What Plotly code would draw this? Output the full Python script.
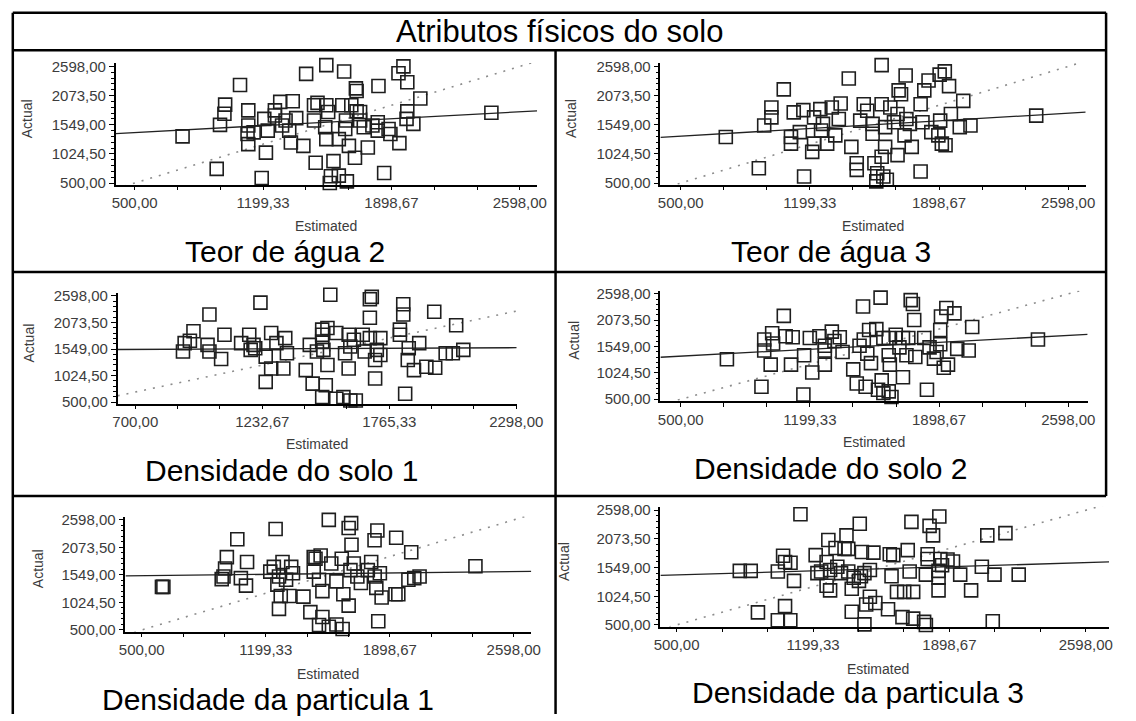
import plotly.graph_objects as go

W, H = 1136, 721
FONT = "Liberation Sans, Arial, sans-serif"

# ---- values ----
title_text = "Atributos físicos do solo"
captions = ["Teor de água 2", "Teor de água 3", "Densidade do solo 1",
            "Densidade do solo 2", "Densidade da particula 1", "Densidade da particula 3"]

y_labels = [500.0, 1024.5, 1549.0, 2073.5, 2598.0]
x_labels_a = [500.0, 1199.33, 1898.67, 2598.0]
x_labels_b = [700.0, 1232.67, 1765.33, 2298.0]

teor2_est = [1544, 1434, 1641, 1964, 1937, 1985, 1828, 1705, 1709, 1074, 2056, 993, 989, 965, 1119,
             1119, 1115, 1119, 1192, 1215, 947, 761, 1264, 1293, 1361, 1322, 1303, 1342, 1351, 1419,
             1380, 1496, 1544, 1554, 1477, 1538, 1544, 1486, 1583, 1569, 1612, 1656, 1563, 1651, 1647,
             1667, 1700, 1728, 1748, 1770, 1795, 1824, 1883, 1893, 1942, 1981, 1985, 2018, 1859, 2443,
             1631, 1680, 1709, 1728, 1477, 1264, 1206, 1225, 1148, 1612, 1824]
teor2_act = [2620, 2464, 2507, 2598, 2476, 2312, 2245, 2203, 2155, 2263, 2020, 1911, 1747, 1546, 1807,
             1534, 1382, 1200, 591, 1047, 755, 1339, 1807, 1960, 1972, 1625, 1534, 1443, 1230, 1169,
             1667, 1942, 1899, 1777, 1625, 1503, 1290, 865, 895, 622, 634, 530, 500, 1625, 1473,
             1169, 956, 1777, 1503, 1139, 1534, 1594, 1473, 1382, 1218, 1655, 1789, 1564, 682, 1765,
             1899, 1899, 1789, 1625, 1899, 1716, 1655, 1443, 1412, 1290, 1443]

teor3_est = [1588, 1410, 1718, 1930, 1902, 1842, 1953, 1819, 1680, 1693, 1058, 2030, 991, 991, 952,
             1112, 1164, 1222, 1256, 1318, 1366, 1356, 1270, 1145, 1097, 1097, 1212, 1168, 923, 744,
             1222, 1293, 1337, 1424, 1491, 1510, 1472, 1539, 1453, 1453, 1549, 1564, 1597, 1616, 1559,
             1588, 1674, 1607, 1539, 1588, 1635, 1607, 1674, 1722, 1712, 1751, 1741, 1799, 1809, 1857,
             1895, 1914, 1934, 1905, 1963, 2011, 2069, 2425, 1260, 1799, 1655]
teor3_act = [2620, 2379, 2433, 2509, 2450, 2344, 2243, 2167, 2167, 2096, 2184, 1978, 1859, 1682, 1534,
             1771, 1812, 1682, 1830, 1859, 1930, 1652, 1564, 1416, 1327, 1209, 1061, 618, 766, 1327,
             1209, 1209, 1357, 1150, 1918, 1800, 1623, 1387, 855, 736, 855, 677, 618, 559, 530,
             973, 1002, 1150, 1564, 1918, 1859, 1505, 1741, 1652, 1357, 1150, 1564, 1918, 1593, 1416,
             1357, 1209, 1180, 1623, 1741, 1505, 1534, 1712, 1446, 707, 1593]

dens1_est = [900, 907, 929, 944, 1011, 1003, 1011, 1060, 1074, 1144, 1178, 1184, 1196, 1225, 1203,
             1247, 1247, 1270, 1270, 1292, 1329, 1321, 1336, 1415, 1432, 1444, 1484, 1484, 1484, 1489,
             1462, 1506, 1506, 1499, 1484, 1543, 1518, 1543, 1573, 1602, 1625, 1580, 1595, 1617, 1595,
             1602, 1654, 1662, 1684, 1684, 1684, 1692, 1706, 1728, 1706, 1728, 1713, 1810, 1824, 1824,
             1810, 1832, 1843, 1847, 1869, 1891, 1921, 1958, 1954, 2002, 2032, 2046, 2076]
dens1_act = [1499, 1665, 1712, 1899, 2232, 1632, 1499, 1352, 1832, 1665, 1832, 1532, 1632, 2465, 1565,
             1399, 900, 1865, 1166, 1665, 1765, 1166, 1466, 1133, 1632, 866, 1932, 1832, 1699, 1532,
             1499, 1965, 1233, 833, 600, 1865, 2620, 567, 600, 533, 533, 1466, 1832, 1732, 1166,
             1599, 1832, 1499, 1765, 2165, 2532, 2578, 1332, 1765, 966, 1432, 1532, 1832, 2432, 2232,
             1932, 666, 1332, 1565, 1133, 1665, 1199, 1179, 2285, 1466, 1466, 2018, 1532]

dens2_est = [1487, 1582, 1745, 1757, 1938, 1982, 1909, 1764, 1058, 2078, 1905, 995, 952, 952, 1068,
             1106, 1000, 750, 937, 987, 1097, 1168, 1199, 1164, 1212, 1251, 1280, 1318, 1332, 1361,
             1280, 1280, 1376, 1434, 1453, 1468, 1491, 1510, 1520, 1530, 1501, 1559, 1588, 1597, 1568,
             1626, 1641, 1597, 1626, 1632, 1664, 1684, 1703, 1703, 1722, 1732, 1770, 1818, 1847, 1871,
             1885, 1905, 1924, 1947, 1997, 2059, 1833, 2434, 1626]
dens2_act = [2348, 2523, 2473, 2398, 2316, 2210, 2147, 2078, 2160, 1940, 1878, 1815, 1471, 1690, 1753,
             1734, 1609, 1295, 750, 1189, 1189, 1377, 1721, 594, 1032, 1753, 1189, 1847, 1659, 1734,
             1565, 1471, 1440, 1095, 813, 1565, 1690, 1408, 1878, 1220, 750, 1897, 876, 625, 688,
             657, 544, 1721, 1377, 1189, 1784, 1533, 1721, 938, 1377, 1721, 1340, 1721, 1533, 1309,
             1440, 1596, 1126, 1189, 1502, 1471, 688, 1690, 1721]

part1_est = [1555, 1667, 1681, 1829, 1813, 1935, 1683, 1255, 1039, 2020, 980, 970, 961, 1094, 1059,
             1088, 614, 1225, 1245, 1294, 1274, 1314, 1265, 1284, 1274, 1333, 1343, 1412, 1451, 1470,
             1480, 1509, 1470, 1500, 1519, 1500, 1519, 1555, 1598, 1633, 1569, 1598, 1628, 1637, 1667,
             1677, 1696, 1716, 1736, 1775, 1794, 1814, 1823, 1853, 1843, 1834, 1931, 1947, 2004, 2037,
             2067, 2382, 951, 1353, 622]
part1_act = [2598, 2444, 2536, 2394, 2209, 2258, 2123, 2425, 2228, 1981, 1888, 1672, 1518, 1796, 1487,
             1345, 1321, 1611, 1703, 1796, 1518, 1456, 1364, 1148, 901, 1148, 1703, 1135, 839, 1888,
             1857, 1919, 1611, 1456, 1240, 593, 747, 562, 605, 519, 1765, 1425, 1857, 1179, 963,
             1641, 1765, 1518, 1395, 1641, 1796, 1518, 1302, 1117, 1580, 667, 1179, 1179, 1456, 1487,
             1518, 1715, 1469, 1580, 1321]

part3_est = [1135, 1439, 1371, 1278, 1704, 1797, 1847, 1815, 2093, 2186, 1315, 1361, 1213, 1380, 1450,
             1509, 1593, 1611, 1685, 1787, 1787, 1852, 1889, 1917, 1046, 1056, 1084, 1019, 1102, 824,
             880, 1222, 1241, 1269, 1287, 1324, 1343, 1380, 1408, 1435, 1445, 1463, 1491, 1269, 1287,
             1398, 1398, 1491, 1472, 1519, 1584, 1602, 1630, 1667, 1713, 1658, 1713, 1695, 1769, 1778,
             1778, 1843, 1843, 1954, 2010, 2065, 2130, 2254, 917, 1056, 1019, 1083, 1463, 2121, 1843, 1861]
part3_act = [2523, 2351, 2138, 2052, 2385, 2311, 2483, 2138, 2138, 2178, 1908, 1891, 1776, 1891, 1834,
             1822, 1793, 1776, 1868, 1793, 1707, 1707, 1696, 1661, 1765, 1650, 1638, 1477, 1305, 1489,
             1489, 1448, 1477, 1650, 1506, 1563, 1448, 1477, 1362, 1305, 1391, 1448, 1506, 1218, 1132,
             1161, 741, 1017, 874, 902, 787, 1391, 1104, 1104, 1104, 644, 615, 1477, 557, 500,
             1420, 1132, 1362, 1420, 1132, 1563, 1420, 1420, 730, 845, 586, 586, 511, 569, 1489, 1592]

# fitted line of each panel (intercept, slope)
reg_intercept = [1319, 1244, 1527, 1259, 1515, 1361]
reg_slope = [0.178, 0.197, 0.021, 0.197, 0.037, 0.107]

series = [(teor2_est, teor2_act), (teor3_est, teor3_act), (dens1_est, dens1_act),
          (dens2_est, dens2_act), (part1_est, part1_act), (part3_est, part3_act)]

# ---- layout of the six cells (pixels from the top-left corner) ----
panels = [
    dict(x0=113, x1=547, y0=58, y1=182, xr=[397, 2692], lab=x_labels_a,
         ax=22, est=224, cx=287, cy=250),
    dict(x0=674, x1=1112, y0=58, y1=182, xr=[390, 2693], lab=x_labels_a,
         ax=582, est=224, cx=850, cy=250),
    dict(x0=115, x1=526, y0=292, y1=405, xr=[626, 2300], lab=x_labels_b,
         ax=24, est=446, cx=284, cy=473),
    dict(x0=674, x1=1114, y0=290, y1=402, xr=[390, 2703], lab=x_labels_a,
         ax=585, est=444, cx=850, cy=471),
    dict(x0=123, x1=541, y0=520, y1=637, xr=[408, 2697], lab=x_labels_a,
         ax=33, est=680, cx=270, cy=706),
    dict(x0=674, x1=1136, y0=510, y1=632, xr=[417, 2717], lab=x_labels_a,
         ax=574, est=675, cx=878, cy=699),
]
Y_RANGE = [470, 2660]


def fmt(v):
    return f"{v:.2f}".replace(".", ",")


def note(x, y, text, size, color="black", angle=0):
    return dict(x=x / W, y=1 - y / H, xref="paper", yref="paper", text=text,
                textangle=angle, showarrow=False, xanchor="center", yanchor="middle",
                font=dict(family=FONT, size=size, color=color))


fig = go.Figure()
annotations = []

for i, p in enumerate(panels):
    n = "" if i == 0 else str(i + 1)
    xa, ya = "x" + n, "y" + n
    est, act = series[i]
    lo, hi = p["xr"]

    # 1:1 reference line
    fig.add_trace(go.Scatter(x=[lo, hi], y=[lo, hi], xaxis=xa, yaxis=ya, mode="lines",
                             line=dict(color="#8c8c8c", width=1.6, dash="2px,7px"),
                             hoverinfo="skip"))
    # fitted line
    b0, b1 = reg_intercept[i], reg_slope[i]
    fig.add_trace(go.Scatter(x=[lo, hi], y=[b0 + b1 * lo, b0 + b1 * hi], xaxis=xa, yaxis=ya,
                             mode="lines", line=dict(color="#222222", width=1.3),
                             hoverinfo="skip"))
    # observations
    fig.add_trace(go.Scatter(x=est, y=act, xaxis=xa, yaxis=ya, mode="markers",
                             marker=dict(symbol="square-open", size=13, color="#1e1e1e",
                                         line=dict(width=1.6)),
                             cliponaxis=False))

    l0, l1 = p["lab"][0], p["lab"][-1]
    xt = [l0 + k * (l1 - l0) / 9 for k in range(10)]
    xtt = [fmt(p["lab"][k // 3]) if k % 3 == 0 else "" for k in range(10)]

    tickfont = dict(family=FONT, size=15, color="#3c3c3c")
    fig.update_layout({
        "xaxis" + n: dict(domain=[p["x0"] / W, p["x1"] / W], range=[lo, hi], anchor=ya,
                          tickvals=xt, ticktext=xtt, ticks="outside", ticklen=4,
                          tickcolor="black", showline=True, linecolor="black", linewidth=1.5,
                          showgrid=False, zeroline=False, tickfont=tickfont,
                          ticklabeloverflow="allow"),
        "yaxis" + n: dict(domain=[1 - p["y1"] / H, 1 - p["y0"] / H], range=Y_RANGE, anchor=xa,
                          tickvals=y_labels, ticktext=[fmt(v) for v in y_labels],
                          ticks="outside", ticklen=5, tickcolor="black",
                          minor=dict(dtick=104.9, tick0=500, ticks="outside", ticklen=3,
                                     tickcolor="black"),
                          showline=True, linecolor="black", linewidth=1.5,
                          showgrid=False, zeroline=False, tickfont=tickfont),
    })

    annotations.append(note(p["ax"], (p["y0"] + p["y1"]) / 2 - 5, "Actual", 14,
                            "#3c3c3c", -90))
    annotations.append(note((p["x0"] + p["x1"]) / 2 if i != 5 else 898, p["est"],
                            "Estimated", 14, "#3c3c3c"))
    annotations.append(note(p["cx"], p["cy"], captions[i], 30))

annotations.append(note(570, 26, title_text, 31))

# table rules
rules = [(7, 7, 1133, 7), (7, 7, 7, 721), (1133, 7, 1133, 499), (7, 45, 1133, 45),
         (7, 271, 1133, 271), (7, 499, 1133, 499), (566, 45, 566, 721)]
shapes = [dict(type="line", xref="paper", yref="paper", x0=a / W, y0=1 - b / H, x1=c / W,
               y1=1 - d / H, line=dict(color="black", width=2.5)) for a, b, c, d in rules]

fig.update_layout(width=W, height=H, margin=dict(l=0, r=0, t=0, b=0),
                  paper_bgcolor="white", plot_bgcolor="white", showlegend=False,
                  annotations=annotations, shapes=shapes)

# drop the page's default body margin so the 1136x721 figure fills the window
fig.write_html("out.html", config={"displayModeBar": False},
               post_script="document.body.style.margin='0px';"
                           "document.body.style.overflow='hidden';")
